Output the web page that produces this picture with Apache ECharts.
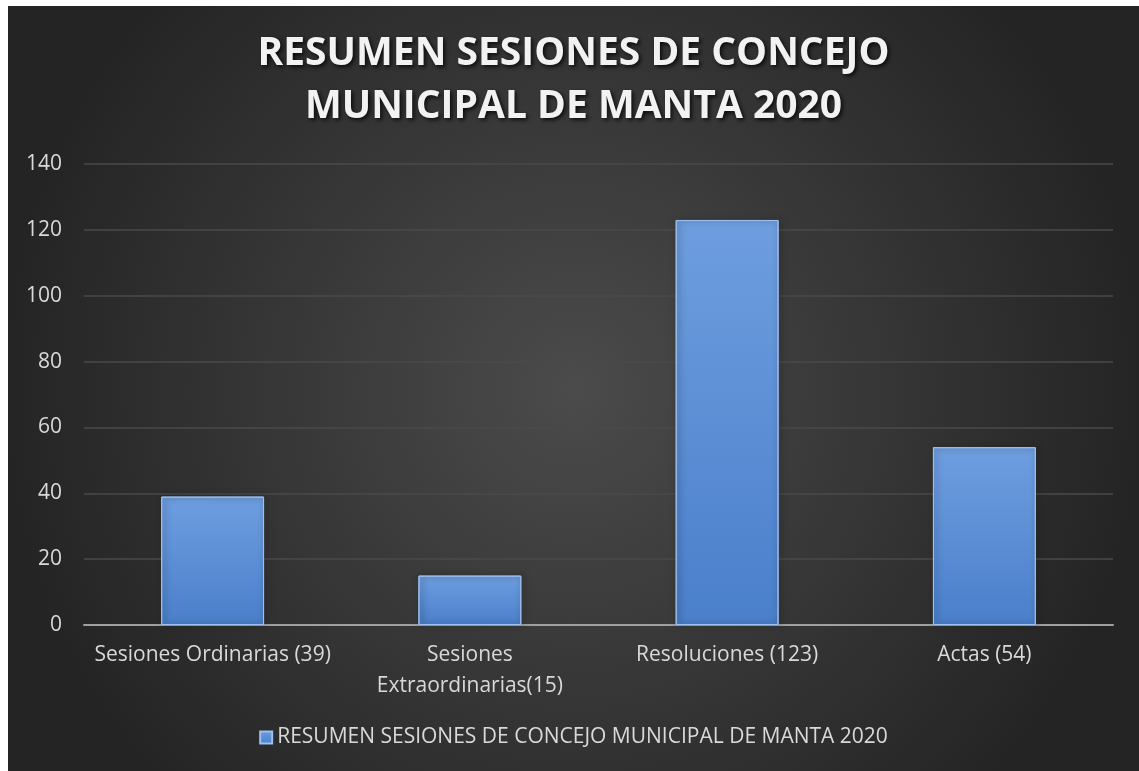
<!DOCTYPE html>
<html>
<head>
<meta charset="utf-8">
<script src="https://cdn.jsdelivr.net/npm/echarts@6/dist/echarts.min.js"></script>
<style>
  html, body { margin: 0; padding: 0; background: #ffffff; }
  #chart { position: absolute; left: 8px; top: 6px; width: 1131px; height: 765px; }
</style>
</head>
<body>
<div id="chart"></div>
<script>
const categories = [
  "Sesiones Ordinarias (39)",
  "Sesiones\nExtraordinarias(15)",
  "Resoluciones (123)",
  "Actas (54)"
];
const values = [39, 15, 123, 54];
const seriesName = "RESUMEN SESIONES DE CONCEJO MUNICIPAL DE MANTA 2020";
const titleText = "RESUMEN SESIONES DE CONCEJO\nMUNICIPAL DE MANTA 2020";

const chart = echarts.init(document.getElementById("chart"));

// bar colour, bevel-ish
const barColor = new echarts.graphic.LinearGradient(0, 0, 0, 1, [
  { offset: 0, color: "#6e9ee0" },
  { offset: 1, color: "#4a7fca" }
]);

const option = {
  backgroundColor: new echarts.graphic.RadialGradient(0.5, 0.5, 0.75, [
    { offset: 0, color: "#4b4b4b" },
    { offset: 1, color: "#242424" }
  ]),
  textStyle: { fontFamily: "Open Sans" },
  title: {
    text: titleText,
    left: "center",
    top: 16,
    textStyle: {
      color: "#f2f2f2",
      fontSize: 39,
      fontWeight: "bold",
      fontFamily: "Open Sans",
      lineHeight: 53,
      textShadowColor: "rgba(0,0,0,0.8)",
      textShadowBlur: 4,
      textShadowOffsetX: 2,
      textShadowOffsetY: 2
    }
  },
  legend: {
    bottom: 18,
    left: "center",
    itemWidth: 12,
    itemHeight: 12,
    itemGap: 6,
    icon: "rect",
    data: [seriesName],
    textStyle: { color: "#d9d9d9", fontSize: 21, fontFamily: "Open Sans" }
  },
  grid: {
    left: 76,
    right: 26,
    top: 158,
    bottom: 146
  },
  xAxis: {
    type: "category",
    data: categories,
    axisLine: { lineStyle: { color: "#a0a0a0", width: 2 } },
    axisTick: { show: false },
    axisLabel: {
      color: "#d9d9d9",
      fontSize: 21,
      fontFamily: "Open Sans",
      margin: 15,
      lineHeight: 31,
      interval: 0
    }
  },
  yAxis: {
    type: "value",
    min: 0,
    max: 140,
    interval: 20,
    axisLine: { show: false },
    axisTick: { show: false },
    axisLabel: { color: "#d9d9d9", fontSize: 21, fontFamily: "Open Sans", margin: 22 },
    splitLine: { lineStyle: { color: "#4a4a4a", width: 1.5 } }
  },
  series: [
    {
      name: seriesName,
      type: "bar",
      data: values,
      barWidth: "40%",
      itemStyle: {
        color: barColor,
        borderColor: "#9cc0f0",
        borderWidth: 1,
        shadowColor: "rgba(0,0,0,0.5)",
        shadowBlur: 6,
        shadowOffsetX: 2,
        shadowOffsetY: 0
      },
      emphasis: { disabled: true }
    }
  ]
};

chart.setOption(option);
window.addEventListener("resize", () => chart.resize());
</script>
</body>
</html>
